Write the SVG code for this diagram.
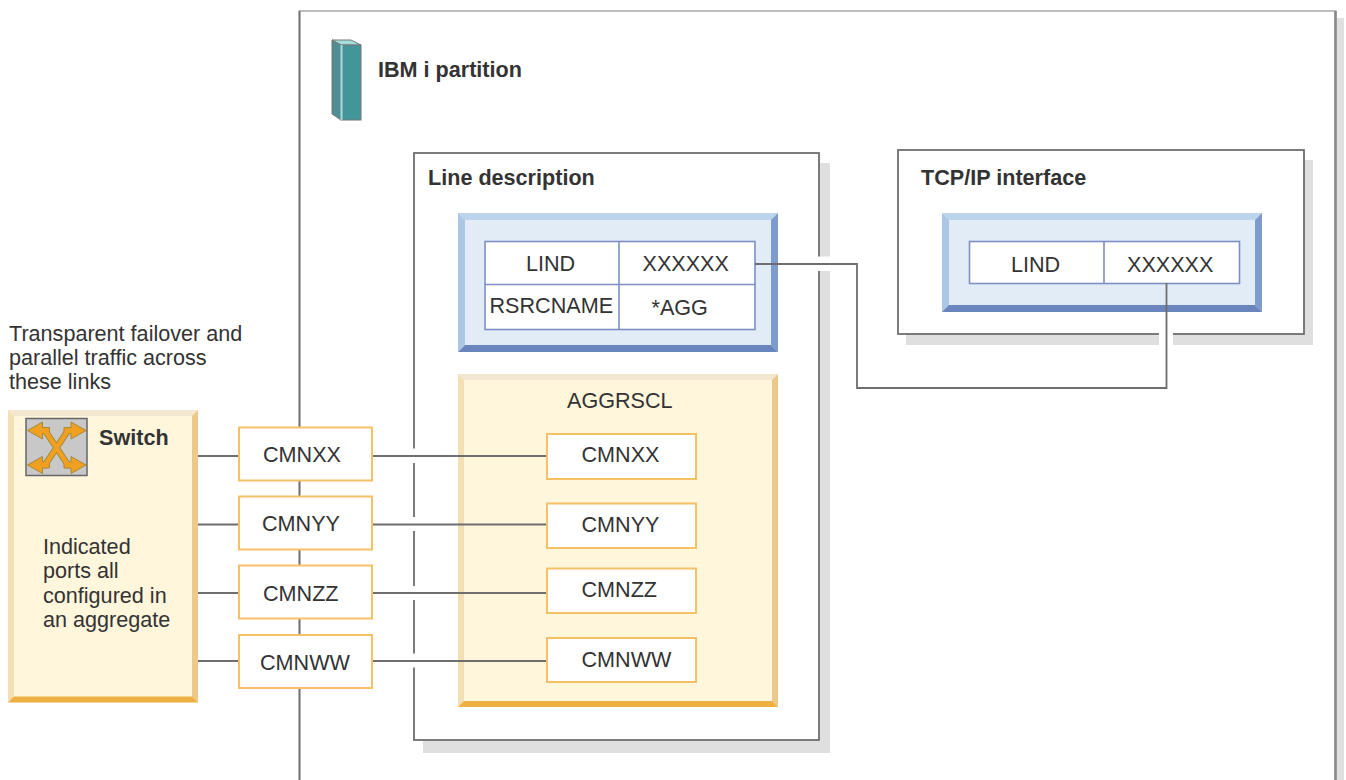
<svg xmlns="http://www.w3.org/2000/svg" width="1346" height="780" viewBox="0 0 1346 780">
<style>
text{font-family:"Liberation Sans",Arial,sans-serif;font-size:21.6px;fill:#333}
.b{font-weight:bold;font-size:21.6px}
.shadow{fill:#dfdfdf}
.frame{fill:#fff;stroke:#6e6e6e;stroke-width:1.8}
.conn{fill:none;stroke:#6e6e6e;stroke-width:1.8}
.port{fill:#fff;stroke:#f6c064;stroke-width:2}
.cell{fill:#fff;stroke:#7f8fc4;stroke-width:1.6}
.yf{fill:#fff6dc}.yt{fill:#f4e7d2}.yl{fill:#f3dfb4}.yr{fill:#ecc98a}.yb{fill:#eeb040}
.bf{fill:#e2ecf7}.bt{fill:#bdd4ed}.bl{fill:#acc6e6}.br{fill:#7d9bcd}.bb{fill:#6a85bd}
</style>
<defs>
<g id="arrow"><polygon points="0,0 15,-8.500 15,-3 22,-3 22,3 15,3 15,8.500" fill="#f0a020" stroke="#a58a3a" stroke-width="1"/></g>
</defs>

<g id="partition">
<path d="M1337 18H1344V780H1337Z" class="shadow"/>
<path d="M299.500 780V11H1335.500V780" fill="#fff" stroke="#aaa" stroke-width="1.6"/>
<path d="M299.500 780V11" fill="none" stroke="#6e6e6e" stroke-width="1.8"/>
<path d="M1335.500 11V780" fill="none" stroke="#888" stroke-width="2.6"/>
<g id="partition-icon">
<polygon points="332,40 351,40 361,45 341,45" fill="#a2dede" stroke="#777" stroke-width="1"/>
<polygon points="332,40 341,45 341,120 332,114" fill="#4f8d95" stroke="#777" stroke-width="1"/>
<rect x="341" y="45" width="20" height="75" fill="#429698" stroke="#777" stroke-width="1"/>
<rect x="340.500" y="45" width="2" height="75" fill="#a8dcdc"/>
</g>
<text class="b" x="378" y="77">IBM i partition</text>
</g>

<g id="line-description">
<rect class="shadow" x="423" y="163" width="407" height="590"/>
<rect class="frame" x="414" y="153" width="405" height="587"/>
<path d="M414 448.500V463M414 517V531M414 586V600M414 653.500V667.500" stroke="#fff" stroke-width="3" fill="none"/>
<rect x="817" y="256.500" width="15" height="14.500" fill="#fff"/>
<text class="b" x="428" y="185">Line description</text>
</g>

<g id="tcpip-interface">
<rect class="shadow" x="906" y="160" width="407" height="185"/>
<rect class="frame" x="898" y="150" width="406" height="184"/>
<rect x="1159" y="332" width="14" height="14" fill="#fff"/>
<text class="b" x="921" y="185">TCP/IP interface</text>
</g>

<g id="line-record">
<rect class="bf" x="458" y="213" width="320" height="139"/>
<polygon class="bt" points="458,213 778,213 771,220 465,220"/>
<polygon class="bl" points="458,213 465,220 465,345 458,352"/>
<polygon class="br" points="778,213 778,352 771,345 771,220"/>
<polygon class="bb" points="458,352 465,345 771,345 778,352"/>
<rect class="cell" x="485" y="241.500" width="270" height="88"/>
<path class="cell" d="M619 241.500V329.500M485 284.500H755" fill="none"/>
<text x="526" y="271">LIND</text>
<text x="642.500" y="271">XXXXXX</text>
<text x="489.500" y="313">RSRCNAME</text>
<text x="651.500" y="315">*AGG</text>
</g>

<g id="tcpip-record">
<rect class="bf" x="942" y="213" width="320" height="99"/>
<polygon class="bt" points="942,213 1262,213 1255,220 949,220"/>
<polygon class="bl" points="942,213 949,220 949,305 942,312"/>
<polygon class="br" points="1262,213 1262,312 1255,305 1255,220"/>
<polygon class="bb" points="942,312 949,305 1255,305 1262,312"/>
<rect class="cell" x="969.500" y="241.500" width="270" height="42"/>
<path class="cell" d="M1104 241.500V283.500" fill="none"/>
<text x="1011" y="272">LIND</text>
<text x="1127" y="272">XXXXXX</text>
</g>

<g id="aggrscl">
<rect class="yf" x="458" y="374" width="320" height="333"/>
<polygon class="yt" points="458,374 778,374 772,380 464,380"/>
<polygon class="yl" points="458,374 464,380 464,701 458,707"/>
<polygon class="yr" points="778,374 778,707 772,701 772,380"/>
<polygon class="yb" points="458,707 464,701 772,701 778,707"/>
<text x="567" y="408">AGGRSCL</text>
</g>

<g id="switch">
<rect class="yf" x="8" y="410" width="190" height="292.500"/>
<polygon class="yt" points="8,410 198,410 192,416 14,416"/>
<polygon class="yl" points="8,410 14,416 14,696.500 8,702.500"/>
<polygon class="yr" points="198,410 198,702.500 192,696.500 192,416"/>
<polygon class="yb" points="8,702.500 14,696.500 192,696.500 198,702.500"/>
<g id="switch-icon">
<rect x="26" y="418.500" width="61" height="57" fill="#c8c8c8" stroke="#666" stroke-width="1.5"/>
<path d="M42 430.500H45L68 465H71M71 430.500H68L45 465H42" fill="none" stroke="#a58a3a" stroke-width="6.500"/>
<use href="#arrow" x="27.500" y="430.500"/>
<use href="#arrow" transform="translate(86 430.500) scale(-1 1)"/>
<use href="#arrow" x="27.500" y="465"/>
<use href="#arrow" transform="translate(86 465) scale(-1 1)"/>
<path d="M42 430.500H45L68 465H71M71 430.500H68L45 465H42" fill="none" stroke="#f0a020" stroke-width="4.500"/>
</g>
<text class="b" x="99" y="445">Switch</text>
<text x="43" y="554">Indicated</text>
<text x="43" y="578">ports all</text>
<text x="43" y="603">configured in</text>
<text x="43" y="627">an aggregate</text>
</g>

<g id="failover-note">
<text x="9" y="341">Transparent failover and</text>
<text x="9" y="365">parallel traffic across</text>
<text x="9" y="389">these links</text>
</g>

<g id="connectors">
<path class="conn" d="M198 456H239M372 456H547"/>
<path class="conn" d="M198 524.500H239M372 524.500H547"/>
<path class="conn" d="M198 593H239M372 593H547"/>
<path class="conn" d="M198 661H239M372 661H547"/>
<path class="conn" d="M755 264H857V388H1166.500V283"/>
</g>

<g id="port-outer-xx"><rect class="port" x="239" y="427.500" width="133" height="53"/><text x="263" y="462">CMNXX</text></g>
<g id="port-outer-yy"><rect class="port" x="239" y="496.500" width="133" height="53"/><text x="262" y="531">CMNYY</text></g>
<g id="port-outer-zz"><rect class="port" x="239" y="565.500" width="133" height="53"/><text x="263" y="600.500">CMNZZ</text></g>
<g id="port-outer-ww"><rect class="port" x="239" y="635" width="133" height="53"/><text x="260" y="670">CMNWW</text></g>

<g id="port-inner-xx"><rect class="port" x="547" y="434" width="149" height="45"/><text x="581.500" y="462">CMNXX</text></g>
<g id="port-inner-yy"><rect class="port" x="547" y="503.500" width="149" height="44.500"/><text x="581.500" y="531.500">CMNYY</text></g>
<g id="port-inner-zz"><rect class="port" x="547" y="568.500" width="149" height="44.500"/><text x="581.500" y="597">CMNZZ</text></g>
<g id="port-inner-ww"><rect class="port" x="547" y="638" width="149" height="44"/><text x="581.500" y="666.500">CMNWW</text></g>
</svg>
